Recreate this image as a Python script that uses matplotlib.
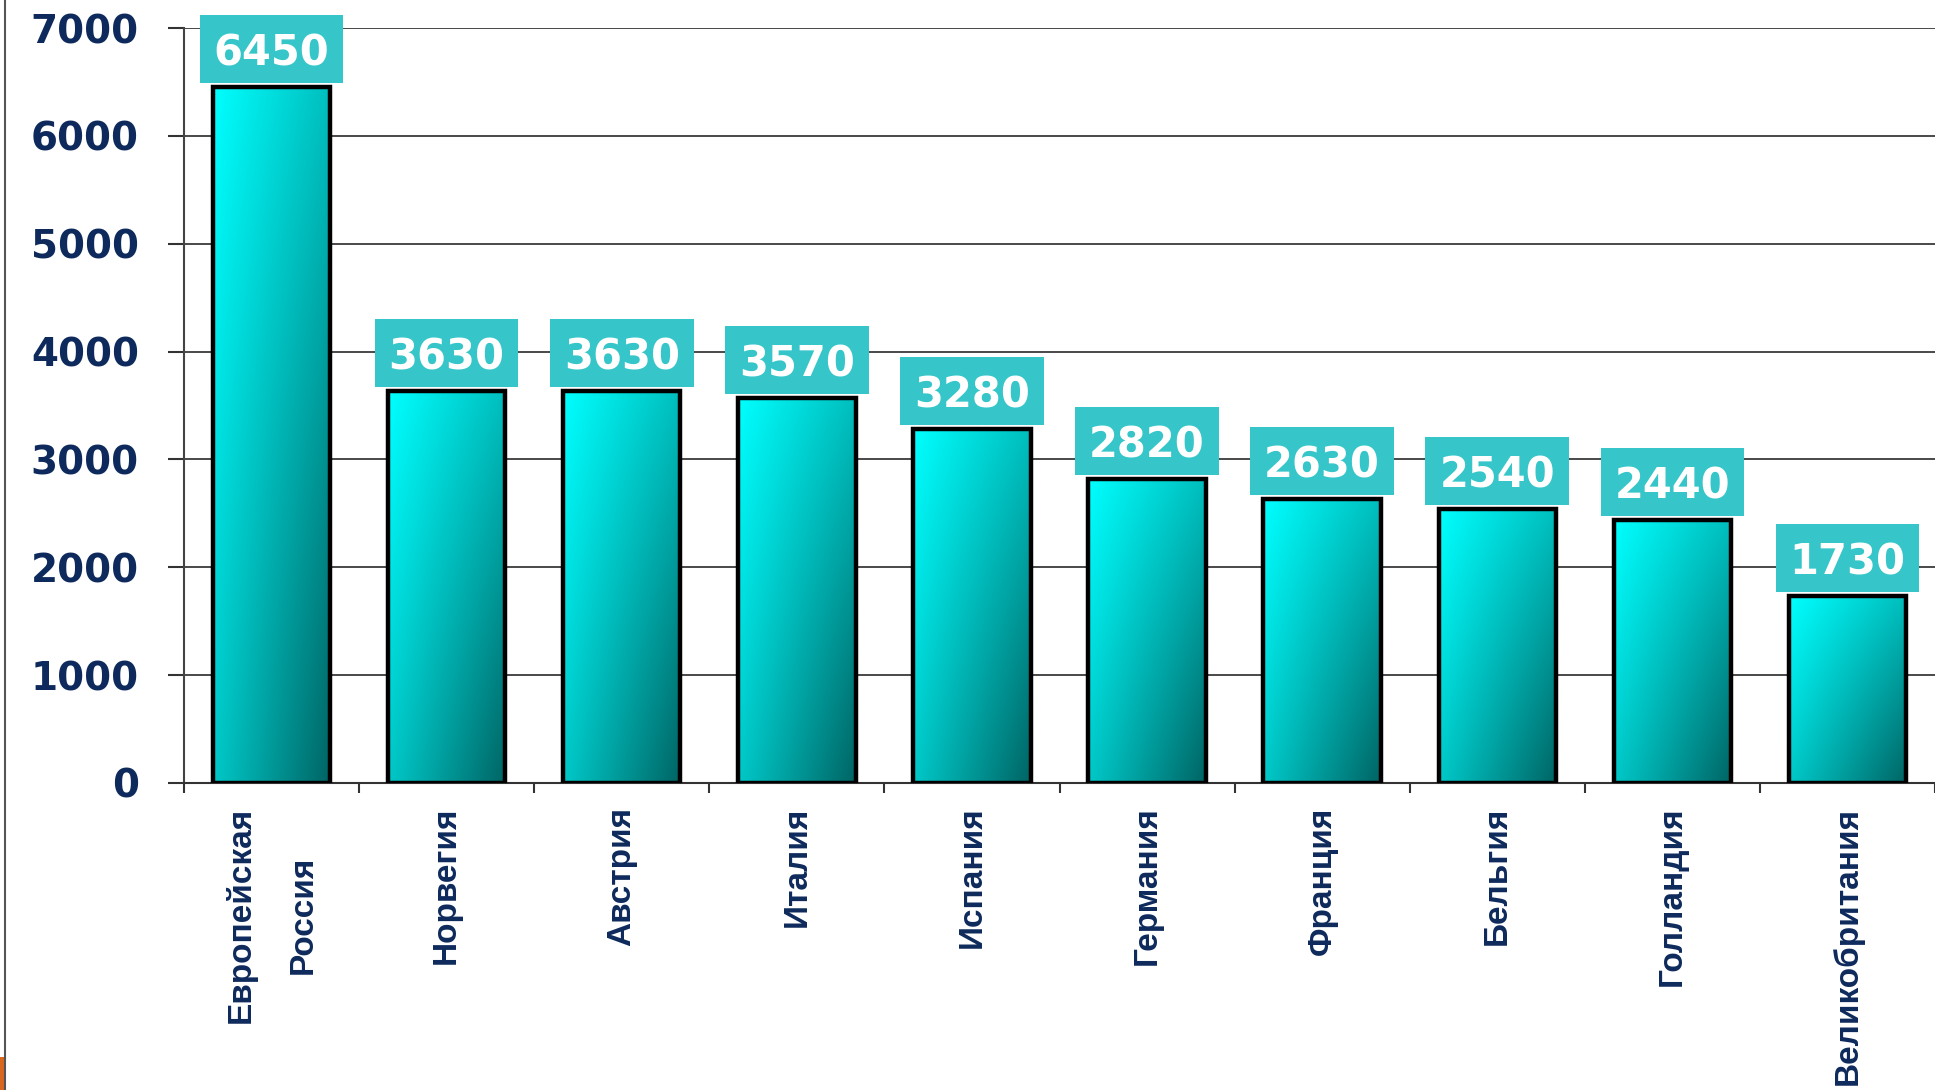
import numpy as np
import matplotlib.pyplot as plt
from matplotlib.patches import Rectangle
from matplotlib.lines import Line2D

countries = ["Европейская\nРоссия", "Норвегия", "Австрия", "Италия", "Испания",
             "Германия", "Франция", "Бельгия", "Голландия", "Великобритания"]
values = [6450, 3630, 3630, 3570, 3280, 2820, 2630, 2540, 2440, 1730]
yticks = [0, 1000, 2000, 3000, 4000, 5000, 6000, 7000]

NAVY = "#0E2A5C"
BOX = "#36C6C9"

W, H = 1935, 1090
fig = plt.figure(figsize=(W / 100, H / 100), dpi=100)
ax = fig.add_axes([184 / W, 1 - 783 / H, 1 - 184 / W, (783 - 28) / H])

# diagonal cyan -> dark teal fill, one image per bar
nx, ny = 120, 300
u = np.linspace(0, 1, nx)[None, :]
v = np.linspace(0, 1, ny)[:, None]
g = (255 - 65 * u - 55 * v - 35 * u * v) / 255.0
grad = np.dstack([np.zeros_like(g), g, g])

x = np.arange(len(values))
bar_w = 0.67
bars = ax.bar(x, values, width=bar_w, facecolor="none", edgecolor="black",
              linewidth=3.2, zorder=3)
for xi, val, bar in zip(x, values, bars):
    im = ax.imshow(grad, extent=[xi - bar_w / 2, xi + bar_w / 2, 0, val],
                   origin="upper", aspect="auto", zorder=2, interpolation="bilinear")
    im.set_clip_path(bar)

    # value label in a filled box above the bar
    ax.add_patch(Rectangle((xi - 0.41, val + 40), 0.82, 630, facecolor=BOX,
                           edgecolor="none", zorder=4, clip_on=False))
    ax.text(xi, val + 40 + 315, str(val), ha="center", va="center_baseline",
            color="white", fontsize=30, fontweight="bold", zorder=5, clip_on=False)

ax.set_aspect("auto")
ax.set_xlim(-0.5, len(values) - 0.5)
ax.set_ylim(0, 7000)

ax.set_yticks(yticks)
ax.set_yticklabels([str(t) for t in yticks], fontsize=28, fontweight="bold", color=NAVY)
ax.tick_params(axis="y", length=11.5, width=1.5, color="#333333", pad=21)

ax.set_xticks(np.arange(-0.5, len(values), 1))
ax.set_xticklabels([])
ax.tick_params(axis="x", which="major", length=7, width=1.5, color="#333333")
ax.set_xticks(x, minor=True)
ax.set_xticklabels(countries, minor=True, rotation=90, ha="center", va="top",
                   multialignment="center", fontsize=24, fontweight="bold", color=NAVY,
                   family=["Liberation Sans", "DejaVu Sans"], linespacing=2.3)
ax.tick_params(axis="x", which="minor", length=0, pad=17)

ax.yaxis.grid(True, color="#3a3a3a", linewidth=1.3)
ax.set_axisbelow(True)
for side in ("top", "right"):
    ax.spines[side].set_visible(False)
ax.spines["left"].set_color("#444444")
ax.spines["left"].set_linewidth(1.5)
ax.spines["bottom"].set_color("#333333")
ax.spines["bottom"].set_linewidth(1.5)

# slide edge line and corner mark
fig.add_artist(Line2D([4.5 / W, 4.5 / W], [0, 1], transform=fig.transFigure,
                      color="#555555", linewidth=1.5))
fig.add_artist(Rectangle((0, 0), 4 / W, 33 / H, transform=fig.transFigure,
                         facecolor="#D9661F", edgecolor="none"))

fig.savefig("out.png", dpi=100)
